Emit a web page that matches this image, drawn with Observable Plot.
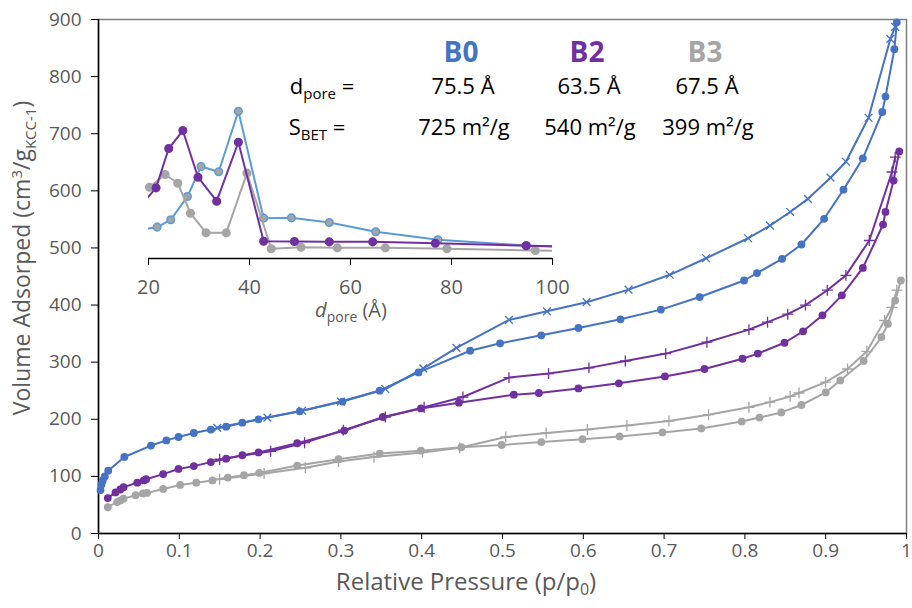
<!DOCTYPE html>
<html><head><meta charset="utf-8">
<script src="https://cdn.jsdelivr.net/npm/d3@7"></script>
<script src="https://cdn.jsdelivr.net/npm/@observablehq/plot@0.6"></script>
<style>
body{margin:0;background:#fff;}
#wrap{position:relative;width:912px;height:608px;font-family:"Open Sans",sans-serif;}
#inset{position:absolute;left:120px;top:90px;}
svg{overflow:visible;}
</style></head><body><div id="wrap"><div id="main"></div><div id="inset"></div></div>
<script>
// ---------- main isotherm data ----------
const xTicks = [0,0.1,0.2,0.3,0.4,0.5,0.6,0.7,0.8,0.9,1];
const yTicks = [0,100,200,300,400,500,600,700,800,900];
const samples = ["B0","B2","B3"];
const colors = ["#4472C4","#7030A0","#A5A5A5"];

const b0AdsP = [0.0025,0.0037,0.0053,0.0078,0.012,0.032,0.065,0.084,0.099,0.118,0.139,0.158,0.178,0.198,0.249,0.302,0.348,0.396,0.460,0.497,0.548,0.594,0.646,0.696,0.744,0.799,0.815,0.846,0.870,0.898,0.922,0.946,0.970,0.974,0.985,0.988];
const b0AdsV = [76,86,93,100,110,134,154,163,169,176,182,187,194,200,214,231,250,282,320,333,347,360,375,392,414,443,456,481,506,551,602,657,738,765,848,895];
const b0DesP = [0.147,0.209,0.252,0.300,0.355,0.402,0.443,0.508,0.555,0.604,0.656,0.707,0.752,0.804,0.831,0.856,0.878,0.906,0.925,0.953,0.980,0.986];
const b0DesV = [185,203,215,231,253,289,325,374,389,405,427,453,482,517,539,563,586,623,651,728,866,887];

const b2AdsP = [0.0115,0.021,0.027,0.031,0.048,0.056,0.059,0.080,0.099,0.118,0.139,0.158,0.178,0.198,0.246,0.304,0.352,0.399,0.446,0.514,0.545,0.594,0.644,0.701,0.750,0.797,0.816,0.849,0.872,0.896,0.920,0.946,0.971,0.974,0.984,0.991];
const b2AdsV = [62,72,77,81,89,93,95,104,113,118,125,131,137,142,158,180,204,219,229,243,246,254,263,275,288,306,315,334,354,382,417,465,541,563,618,669];
const b2DesP = [0.150,0.213,0.255,0.303,0.355,0.403,0.451,0.508,0.557,0.607,0.652,0.702,0.753,0.805,0.828,0.853,0.875,0.902,0.925,0.954,0.982,0.986];
const b2DesV = [130,144,159,181,204,221,239,273,280,290,302,315,335,357,370,384,400,426,452,513,633,659];

const b3AdsP = [0.0115,0.023,0.027,0.031,0.046,0.055,0.060,0.080,0.101,0.121,0.141,0.160,0.180,0.199,0.246,0.297,0.348,0.399,0.449,0.499,0.548,0.599,0.645,0.698,0.746,0.796,0.818,0.845,0.870,0.900,0.918,0.947,0.969,0.977,0.986,0.993];
const b3AdsV = [46,55,58,61,67,70,71,78,85,89,93,98,102,106,119,130,140,145,151,155,160,165,170,177,184,196,203,212,225,247,268,302,344,367,408,443];
const b3DesP = [0.150,0.205,0.256,0.297,0.341,0.401,0.447,0.504,0.554,0.605,0.654,0.706,0.755,0.805,0.831,0.856,0.867,0.900,0.927,0.951,0.973,0.982,0.988];
const b3DesV = [95,105,115,126,134,142,150,169,176,182,189,197,208,221,230,240,246,265,288,319,373,396,426];

// ---------- inset pore-size distribution (arbitrary units) ----------
const insetTicks = [20,40,60,80,100];
const poreB0D = [19,21.7,24.4,27.7,30.4,33.9,37.8,42.8,48.3,55.8,65.0,77.3,94.8,101];
const poreB0V = [19.5,20.9,25.8,41.3,61.3,57.8,98.2,26.9,27.1,24,17.8,12.5,8.7,7.8];
const poreB2D = [19,21.5,24.0,26.8,29.8,33.5,37.8,42.8,48.9,55.8,64.4,76.8,94.8,101];
const poreB2V = [37.4,47.1,73.3,85.3,54.2,38.2,77.5,11.5,11.3,11.1,11.1,10.2,8.5,8.0];
const poreB3D = [20.2,23.3,25.8,28.3,31.4,35.4,39.5,44.3,50.2,57.4,66.9,79.1,96.6,101];
const poreB3V = [47.5,56,50.2,30.2,17.1,17.1,56.9,6.5,7.5,7.1,7.1,6.5,5.3,5.2];
const insetColors = ["#5B9BD5","#7030A0","#A5A5A5"];
const insetFill = ["#A5A5A5","#7030A0","#A5A5A5"];

// ---------- annotation text ----------
const dpore = ["75.5 Å","63.5 Å","67.5 Å"];
const sbet = ["725 m²/g","540 m²/g","399 m²/g"];

const rows = (p, v) => p.map((x, i) => ({p: x, v: v[i]}));
const series = [
  {ads: rows(b0AdsP,b0AdsV), des: rows(b0DesP,b0DesV), color: colors[0], sym: "times"},
  {ads: rows(b2AdsP,b2AdsV), des: rows(b2DesP,b2DesV), color: colors[1], sym: "plus"},
  {ads: rows(b3AdsP,b3AdsV), des: rows(b3DesP,b3DesV), color: colors[2], sym: "plus"}
];

const seriesMarks = [];
for (const s of series.slice().reverse()) {
  seriesMarks.push(
    Plot.line(s.des, {x: "p", y: "v", stroke: s.color, strokeWidth: 2}),
    Plot.dot(s.des, {x: "p", y: "v", symbol: s.sym, r: 3.6, stroke: s.color, strokeWidth: 1.3}),
    Plot.line(s.ads, {x: "p", y: "v", stroke: s.color, strokeWidth: 2}),
    Plot.dot(s.ads, {x: "p", y: "v", r: 3.9, fill: s.color})
  );
}

const main = Plot.plot({
  width: 912, height: 608,
  marginLeft: 98, marginRight: 6, marginTop: 19, marginBottom: 75,
  style: {fontFamily: "Open Sans", background: "transparent", color: "#595959"},
  x: {domain: [0, 1]},
  y: {domain: [0, 900]},
  marks: [
    Plot.frame({stroke: "#7f7f7f", strokeWidth: 1.5}),
    Plot.axisX(xTicks, {tickSize: 6, tickPadding: 4, stroke: "#000", fill: "#595959", fontSize: 19, tickFormat: d => String(d), label: null}),
    Plot.axisY(yTicks, {tickSize: 7, tickPadding: 10, stroke: "#000", fill: "#595959", fontSize: 19, label: null}),
    Plot.ruleX([0], {stroke: "#000", strokeWidth: 1.5}),
    Plot.ruleY([0], {stroke: "#000", strokeWidth: 1.5}),
    ...seriesMarks
  ]
});
document.getElementById("main").appendChild(main);

const svg = d3.select(main);
// axis titles
const yt = svg.append("text").attr("transform", "translate(30,258) rotate(-90)")
  .attr("text-anchor", "middle").attr("fill", "#595959").attr("font-size", 23).attr("font-family", "Open Sans");
yt.append("tspan").text("Volume Adsorped (cm");
yt.append("tspan").attr("dy", -8).attr("font-size", 15).text("3");
yt.append("tspan").attr("dy", 8).text("/g");
yt.append("tspan").attr("dy", 6).attr("font-size", 15).text("KCC-1");
yt.append("tspan").attr("dy", -6).text(")");

const xt = svg.append("text").attr("x", 466).attr("y", 590)
  .attr("text-anchor", "middle").attr("fill", "#595959").attr("font-size", 24).attr("font-family", "Open Sans");
xt.append("tspan").text("Relative Pressure (p/p");
xt.append("tspan").attr("dy", 5).attr("font-size", 16).text("0");
xt.append("tspan").attr("dy", -5).text(")");

// annotation
const colX = [461, 587, 705];
samples.forEach((s, i) => {
  svg.append("text").attr("x", colX[i]).attr("y", 62).attr("text-anchor", "middle")
    .attr("font-weight", "bold").attr("font-size", 28).attr("fill", colors[i]).attr("font-family", "Open Sans").text(s);
  svg.append("text").attr("x", colX[i] + 2).attr("y", 94).attr("text-anchor", "middle")
    .attr("font-size", 22).attr("fill", "#000").attr("font-family", "Open Sans").text(dpore[i]);
  svg.append("text").attr("x", colX[i] + 3).attr("y", 135).attr("text-anchor", "middle")
    .attr("font-size", 22).attr("fill", "#000").attr("font-family", "Open Sans").text(sbet[i]);
});
const dl = svg.append("text").attr("x", 322).attr("y", 94).attr("font-size", 22).attr("fill", "#000").attr("font-family", "Open Sans");
dl.append("tspan").text("d");
dl.append("tspan").attr("dy", 5).attr("font-size", 15).text("pore");
dl.append("tspan").attr("dy", -5).text(" =");
const sl = svg.append("text").attr("x", 317).attr("y", 135).attr("font-size", 22).attr("fill", "#000").attr("font-family", "Open Sans");
sl.append("tspan").text("S");
sl.append("tspan").attr("dy", 5).attr("font-size", 15).text("BET");
sl.append("tspan").attr("dy", -5).text(" =");

// ---------- inset ----------
const pore = [
  {d: rows(poreB0D, poreB0V), c: insetColors[0], f: insetFill[0]},
  {d: rows(poreB3D, poreB3V), c: insetColors[2], f: insetFill[2]},
  {d: rows(poreB2D, poreB2V), c: insetColors[1], f: insetFill[1]}
];
const insetMarks = [];
for (const s of pore) {
  insetMarks.push(
    Plot.line(s.d, {x: "p", y: "v", stroke: s.c, strokeWidth: 2, clip: true}),
    Plot.dot(s.d.filter(r => r.p >= 20 && r.p <= 100), {x: "p", y: "v", r: 3.8, fill: s.f, stroke: s.c, strokeWidth: 1.5})
  );
}
const inset = Plot.plot({
  width: 460, height: 240,
  marginLeft: 28, marginRight: 28, marginTop: 18, marginBottom: 72,
  style: {fontFamily: "Open Sans", background: "transparent", color: "#595959"},
  x: {domain: [20, 100]},
  y: {domain: [0, 100], axis: null},
  marks: [
    Plot.axisX(insetTicks, {tickSize: 7, tickPadding: 14, stroke: "#000", fill: "#595959", fontSize: 20, label: null}),
    Plot.ruleY([0], {stroke: "#000", strokeWidth: 1.5}),
    ...insetMarks
  ]
});
document.getElementById("inset").appendChild(inset);
const isvg = d3.select(inset);
const il = isvg.append("text").attr("x", 231).attr("y", 227).attr("text-anchor", "middle")
  .attr("font-size", 20).attr("fill", "#595959").attr("font-family", "Open Sans");
il.append("tspan").attr("font-style", "italic").text("d");
il.append("tspan").attr("dy", 5).attr("font-size", 14).text("pore");
il.append("tspan").attr("dy", -5).text(" (Å)");
</script></body></html>
